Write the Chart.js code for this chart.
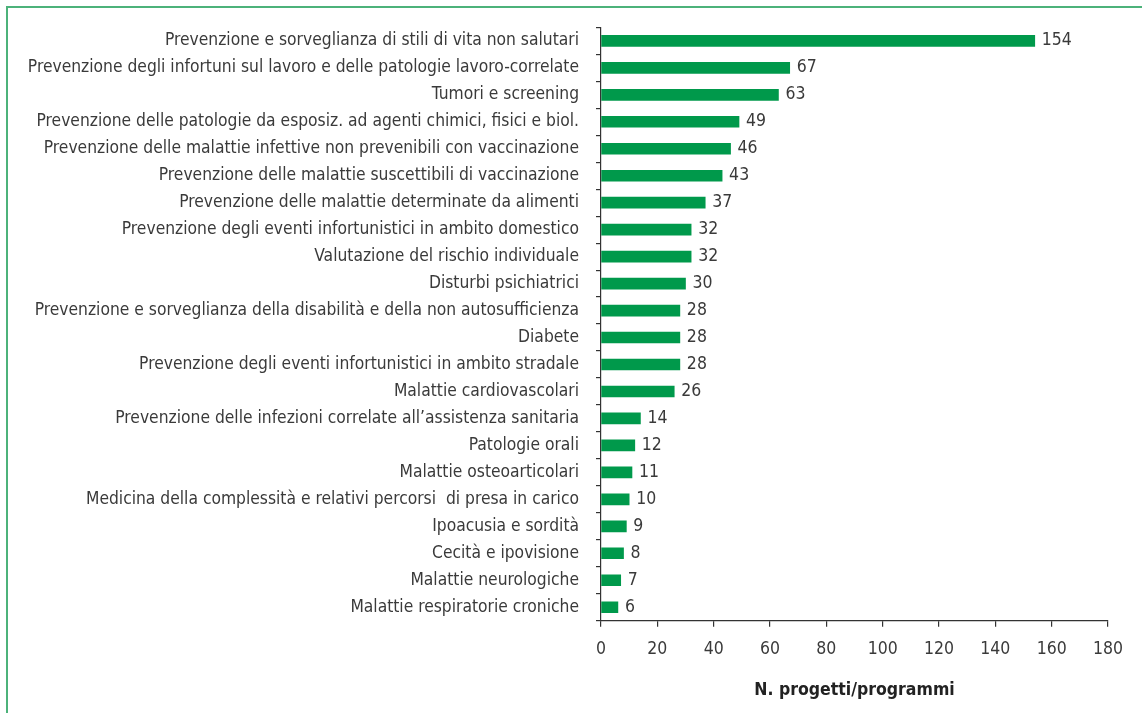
<!DOCTYPE html>
<html>
<head>
<meta charset="utf-8">
<script src="https://cdn.jsdelivr.net/npm/chart.js@4/dist/chart.umd.min.js"></script>
<style>
  html, body { margin: 0; padding: 0; background: #fff; overflow: hidden; }
  #frame {
    position: absolute; left: 6px; top: 6px; width: 1200px; height: 800px;
    border: 2px solid #4cb27a; box-sizing: border-box;
  }
  #wrap { position: absolute; left: 0; top: 0; width: 1142px; height: 713px; }
</style>
</head>
<body>
<div id="frame"></div>
<div id="wrap"><canvas id="chart"></canvas></div>
<script>
// categorie e valori
const categories = [
  "Prevenzione e sorveglianza di stili di vita non salutari",
  "Prevenzione degli infortuni sul lavoro e delle patologie lavoro-correlate",
  "Tumori e screening",
  "Prevenzione delle patologie da esposiz. ad agenti chimici, fisici e biol.",
  "Prevenzione delle malattie infettive non prevenibili con vaccinazione",
  "Prevenzione delle malattie suscettibili di vaccinazione",
  "Prevenzione delle malattie determinate da alimenti",
  "Prevenzione degli eventi infortunistici in ambito domestico",
  "Valutazione del rischio individuale",
  "Disturbi psichiatrici",
  "Prevenzione e sorveglianza della disabilità e della non autosufficienza",
  "Diabete",
  "Prevenzione degli eventi infortunistici in ambito stradale",
  "Malattie cardiovascolari",
  "Prevenzione delle infezioni correlate all\u2019assistenza sanitaria",
  "Patologie orali",
  "Malattie osteoarticolari",
  "Medicina della complessità e relativi percorsi  di presa in carico",
  "Ipoacusia e sordità",
  "Cecità e ipovisione",
  "Malattie neurologiche",
  "Malattie respiratorie croniche"
];
const progetti = [154, 67, 63, 49, 46, 43, 37, 32, 32, 30, 28, 28, 28, 26, 14, 12, 11, 10, 9, 8, 7, 6];
const xTicks = [0, 20, 40, 60, 80, 100, 120, 140, 160, 180];

const FONT = "'Liberation Sans Narrow', 'DejaVu Sans Condensed', sans-serif";
const TEXT = "#3a3a3a";

// etichette con il valore a destra della barra
const valueLabels = {
  id: "valueLabels",
  afterDatasetsDraw(chart) {
    const ctx = chart.ctx;
    const meta = chart.getDatasetMeta(0);
    ctx.save();
    ctx.font = "17.5px " + FONT;
    ctx.fillStyle = TEXT;
    ctx.textAlign = "left";
    ctx.textBaseline = "middle";
    meta.data.forEach((bar, i) => {
      ctx.fillText(String(progetti[i]), bar.x + 7, bar.y);
    });
    ctx.restore();
  }
};

new Chart(document.getElementById("chart"), {
  type: "bar",
  data: {
    labels: categories,
    datasets: [{
      data: progetti,
      backgroundColor: "#00994b",
      barThickness: 11,
      borderWidth: 0
    }]
  },
  options: {
    indexAxis: "y",
    responsive: true,
    maintainAspectRatio: false,
    animation: false,
    layout: { padding: { top: 26.7, right: 34, left: 0, bottom: 0 } },
    plugins: {
      legend: { display: false },
      tooltip: { enabled: false }
    },
    scales: {
      x: {
        min: 0,
        max: 180,
        afterBuildTicks: (scale) => {
          scale.ticks = xTicks.map((v) => ({ value: v }));
        },
        afterFit: (scale) => { scale.height = 92.3; },
        border: { display: true, color: "#333", width: 1.2 },
        grid: { drawOnChartArea: false, drawTicks: true, tickLength: 6, color: "#333", lineWidth: 1.2 },
        ticks: { color: TEXT, font: { family: FONT, size: 17.5 }, padding: 12, maxRotation: 0 },
        title: {
          display: true,
          text: "N. progetti/programmi",
          color: "#222",
          font: { family: FONT, size: 17.5, weight: "bold" },
          padding: { top: 4, bottom: 12 }
        }
      },
      y: {
        afterFit: (scale) => { scale.width = 601; },
        border: { display: true, color: "#333", width: 1.2 },
        grid: { drawOnChartArea: false, drawTicks: true, tickLength: 5, offset: true, color: "#333", lineWidth: 1.2 },
        ticks: { color: TEXT, font: { family: FONT, size: 17.3 }, padding: 17, autoSkip: false }
      }
    }
  },
  plugins: [valueLabels]
});
</script>
</body>
</html>
